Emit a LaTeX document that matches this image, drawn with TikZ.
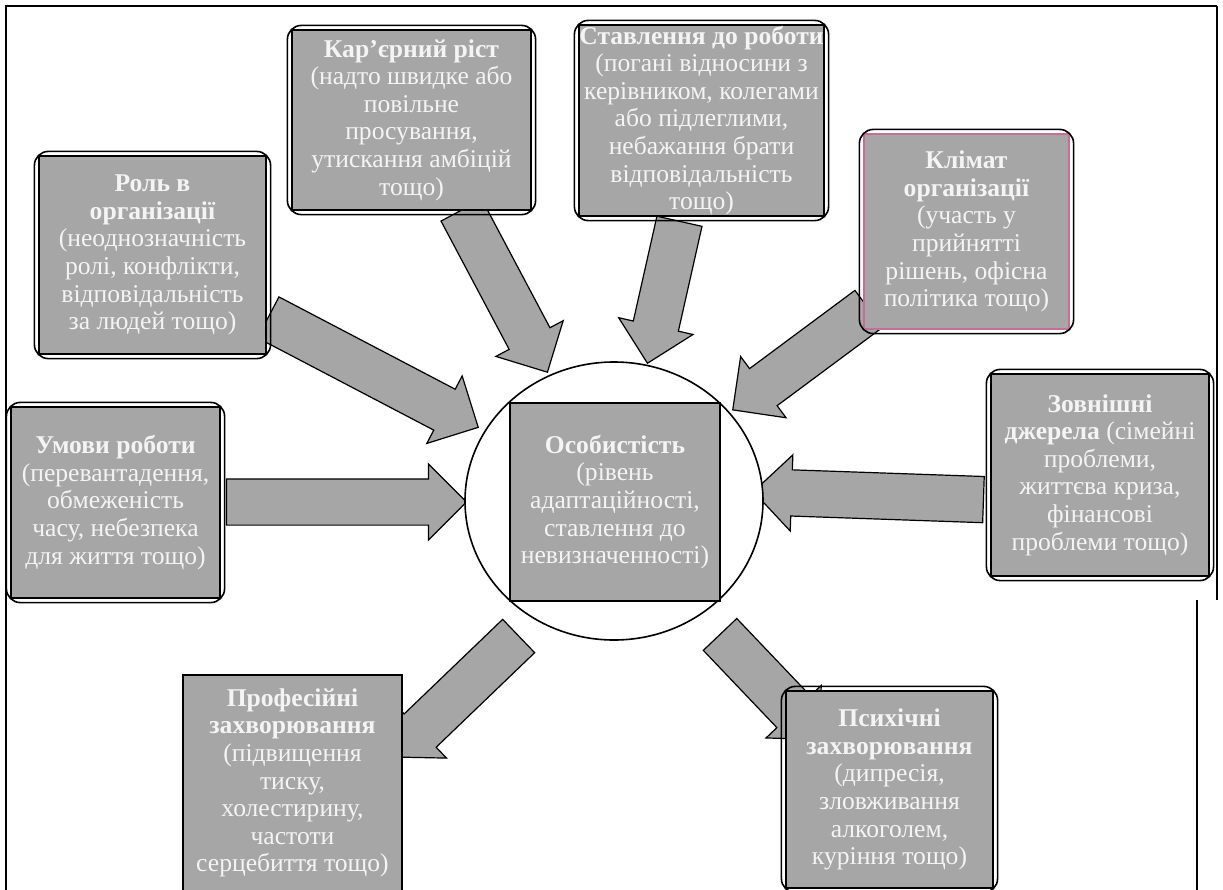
\documentclass[tikz,border=0pt]{standalone}
\usepackage{fontspec}
\setmainfont{Liberation Serif}
\usetikzlibrary{shapes.arrows,shapes.geometric,calc,backgrounds}

\definecolor{boxgray}{RGB}{166,166,166}
\definecolor{boxtext}{RGB}{244,244,244}
\definecolor{climatepink}{RGB}{196,112,150}

\begin{document}
\begin{tikzpicture}[
    x=0.5pt, y=-0.5pt,
    cause/.style={rectangle, draw=black, line width=0.6pt, fill=boxgray, text=boxtext, align=center, inner sep=0pt, font=\fontsize{12.8}{13.8}\selectfont},
    frame/.style={draw=black, line width=0.8pt, rounded corners=7pt},
    bigarrow/.style={single arrow, draw=black, line width=0.6pt, fill=boxgray, inner xsep=0pt, inner ysep=11.25pt, minimum width=37.5pt, single arrow head extend=7.5pt}
]
\useasboundingbox (0,0) rectangle (1223,890);
\clip (0,0) rectangle (1223,890);

% --- page frame ---
\draw[line width=1pt] (1217,6) -- (6,6) -- (6,895);
\draw[line width=1pt] (1217,6) -- (1217,600);
\draw[line width=1pt] (1197,600) -- (1197,895);

% --- centre ---
\node[draw, ellipse, line width=0.8pt, fill=white, minimum width=149pt, minimum height=139pt] (ring) at (614,501) {};
\node[cause, minimum width=105pt, minimum height=99pt] (person) at (615,502) {\textbf{Особистість}\\(рівень\\адаптаційності,\\ставлення до\\невизначенності)};

% --- sources of stress ---
\node[cause, minimum width=119.5pt, minimum height=90pt] (career) at (411.5,120) {\textbf{Кар’єрний ріст}\\(надто швидке або\\повільне\\просування,\\утискання амбіцій\\тощо)};
\node[cause, minimum width=122.5pt, minimum height=95.5pt] (attitude) at (701.5,120.5) {\textbf{Ставлення до роботи}\\(погані відносини з\\керівником, колегами\\або підлеглими,\\небажання брати\\відповідальність\\тощо)};
\node[cause, minimum width=113.5pt, minimum height=99pt] (role) at (152.5,255) {\textbf{Роль в}\\\textbf{організації}\\(неоднозначність\\ролі, конфлікти,\\відповідальність\\за людей тощо)};
\node[cause, draw=climatepink, minimum width=102.5pt, minimum height=97.5pt] (climate) at (966.5,231.5) {\textbf{Клімат}\\\textbf{організації}\\(участь у\\прийнятті\\рішень, офісна\\політика тощо)};
\node[cause, minimum width=104.5pt, minimum height=95.5pt] (cond) at (115.5,502.5) {\textbf{Умови роботи}\\(перевантадення,\\обмеженість\\часу, небезпека\\для життя тощо)};
\node[cause, minimum width=109pt, minimum height=101pt] (extern) at (1100,475) {\textbf{Зовнішні}\\\textbf{джерела} (сімейні\\проблеми,\\життєва криза,\\фінансові\\проблеми тощо)};

% --- consequences ---
\node[cause, minimum width=109.5pt, minimum height=108pt] (prof) at (292.5,783) {\textbf{Професійні}\\\textbf{захворювання}\\(підвищення\\тиску,\\холестирину,\\частоти\\серцебиття тощо)};
\node[cause, minimum width=103.5pt, minimum height=98.5pt] (mental) at (889.5,789.5) {\textbf{Психічні}\\\textbf{захворювання}\\(дипресія,\\зловживання\\алкоголем,\\куріння тощо)};

% rounded outer borders
\foreach \n in {career,attitude,role,climate,cond,extern,mental}
  \draw[frame] ([shift={(-4,-4)}]\n.north west) rectangle ([shift={(4,4)}]\n.south east);

% --- block arrows: tail / tip ---
\coordinate (roleT) at (258,312);     \coordinate (roleH) at (468,422);
\coordinate (careerT) at (456,200);   \coordinate (careerH) at (542,362);
\coordinate (attitudeT) at (682,210); \coordinate (attitudeH) at (650,352);
\coordinate (climateT) at (878,302);  \coordinate (climateH) at (742,403);
\coordinate (condT) at (215,502);     \coordinate (condH) at (455,502);
\coordinate (externT) at (995,500);   \coordinate (externH) at (765,492);
\coordinate (profT) at (527,628);     \coordinate (profH) at (401,749);
\coordinate (mentalT) at (712,626);   \coordinate (mentalH) at (812,731);

\begin{scope}[on background layer]
\foreach \a in {role,career,attitude,climate,cond,extern,prof,mental}
  \path let \p1=($(\a H)-(\a T)$), \n1={atan2(\y1,\x1)}, \n2={veclen(\x1,\y1)} in
    node[bigarrow, minimum height=\n2, rotate=\n1] (arr\a) at ($(\a T)!0.5!(\a H)$) {};
\end{scope}

\end{tikzpicture}
\end{document}
